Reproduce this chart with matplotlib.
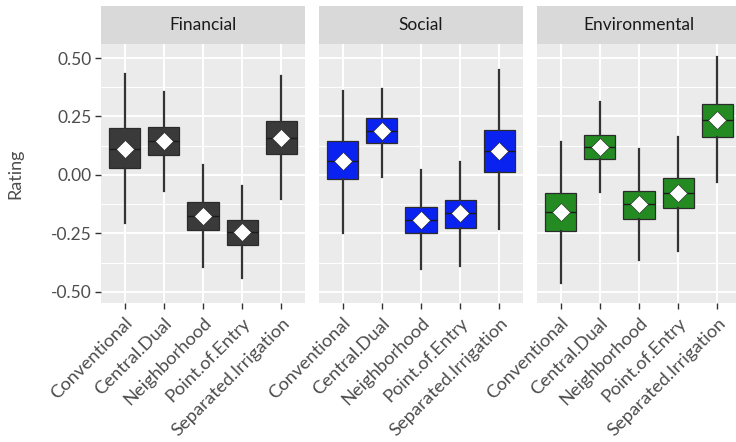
import matplotlib
matplotlib.use("Agg")
import matplotlib.pyplot as plt

plt.rcParams["font.family"] = ["Lato", "DejaVu Sans"]

categories = ["Conventional", "Central.Dual", "Neighborhood", "Point.of.Entry", "Separated.Irrigation"]
panels = ["Financial", "Social", "Environmental"]
fills = ["#3a3a3a", "#0a22f0", "#238b22"]

# per-panel box statistics, one value per category
fin_low = [-0.204, -0.069, -0.393, -0.443, -0.104]
fin_q1 = [0.031, 0.086, -0.236, -0.300, 0.089]
fin_med = [0.111, 0.146, -0.176, -0.243, 0.160]
fin_q3 = [0.200, 0.204, -0.117, -0.193, 0.229]
fin_high = [0.433, 0.354, 0.043, -0.046, 0.421]
fin_mean = [0.111, 0.146, -0.176, -0.243, 0.160]

soc_low = [-0.250, -0.011, -0.404, -0.389, -0.233]
soc_q1 = [-0.017, 0.136, -0.250, -0.229, 0.011]
soc_med = [0.060, 0.186, -0.193, -0.164, 0.104]
soc_q3 = [0.146, 0.243, -0.136, -0.107, 0.193]
soc_high = [0.361, 0.367, 0.019, 0.054, 0.450]
soc_mean = [0.060, 0.186, -0.193, -0.164, 0.104]

env_low = [-0.464, -0.074, -0.364, -0.324, -0.031]
env_q1 = [-0.240, 0.069, -0.190, -0.143, 0.164]
env_med = [-0.157, 0.121, -0.126, -0.076, 0.236]
env_q3 = [-0.079, 0.171, -0.067, -0.014, 0.304]
env_high = [0.139, 0.311, 0.110, 0.164, 0.503]
env_mean = [-0.157, 0.121, -0.126, -0.076, 0.236]

panel_stats = [
    (fin_low, fin_q1, fin_med, fin_q3, fin_high, fin_mean),
    (soc_low, soc_q1, soc_med, soc_q3, soc_high, soc_mean),
    (env_low, env_q1, env_med, env_q3, env_high, env_mean),
]

y_ticks = [0.50, 0.25, 0.00, -0.25, -0.50]
y_tick_labels = ["0.50", "0.25", "0.00", "-0.25", "-0.50"]
y_minor = [0.375, 0.125, -0.125, -0.375]

W, H = 736, 442
fig = plt.figure(figsize=(W / 100, H / 100), dpi=100)
fig.patch.set_facecolor("white")

panel_left = [101, 319, 537]
panel_w = 204
panel_top, panel_bot = 44, 303
strip_top = 6

text_col = "#4d4d4d"
fs = 12.5

for k, (name, fill, stats) in enumerate(zip(panels, fills, panel_stats)):
    x0 = panel_left[k]
    ax = fig.add_axes([x0 / W, 1 - panel_bot / H, panel_w / W, (panel_bot - panel_top) / H])
    ax.set_facecolor("#ebebeb")
    for s in ax.spines.values():
        s.set_visible(False)
    low, q1, med, q3, high, mean = stats
    bstats = []
    for i in range(len(categories)):
        bstats.append(dict(whislo=low[i], q1=q1[i], med=med[i], q3=q3[i],
                           whishi=high[i], mean=mean[i], fliers=[]))
    positions = list(range(1, len(categories) + 1))
    ax.bxp(bstats, positions=positions, widths=0.8, showmeans=True, showcaps=False,
           patch_artist=True, zorder=3,
           boxprops=dict(facecolor=fill, edgecolor="#2b2b2b", linewidth=0.9),
           whiskerprops=dict(color="#333333", linewidth=1.6),
           medianprops=dict(color="#1a1a1a", linewidth=1.0),
           meanprops=dict(marker="D", markerfacecolor="white", markeredgecolor="#222222",
                          markeredgewidth=0.4, markersize=9))
    ax.set_xlim(0.4, 5.6)
    ax.set_ylim(-0.548, 0.56)
    ax.set_yticks(y_ticks)
    ax.set_yticks(y_minor, minor=True)
    ax.set_xticks(positions)
    ax.grid(True, which="major", color="white", linewidth=1.4, zorder=0)
    ax.grid(True, which="minor", axis="y", color="white", linewidth=0.7, zorder=0)
    ax.set_axisbelow(True)
    ax.tick_params(axis="both", which="major", length=4.5, width=1.0, color="#333333",
                   labelcolor=text_col, labelsize=fs, pad=2)
    ax.tick_params(axis="x", which="major", labelsize=13.2, pad=4)
    ax.tick_params(axis="both", which="minor", length=0)
    ax.set_xticklabels(categories, rotation=45, ha="right", va="top",
                       rotation_mode="anchor")
    if k == 0:
        ax.set_yticklabels(y_tick_labels)
        ax.set_ylabel("Rating", fontsize=13, color=text_col, labelpad=20)
    else:
        ax.tick_params(axis="y", which="major", length=0, labelleft=False)

    # facet strip
    sax = fig.add_axes([x0 / W, 1 - panel_top / H, panel_w / W, (panel_top - strip_top) / H])
    sax.set_facecolor("#d9d9d9")
    for s in sax.spines.values():
        s.set_visible(False)
    sax.set_xticks([])
    sax.set_yticks([])
    sax.text(0.5, 0.5, name, ha="center", va="center", fontsize=fs,
             color="#1a1a1a", transform=sax.transAxes)

fig.savefig("out.png", dpi=100, facecolor="white")
